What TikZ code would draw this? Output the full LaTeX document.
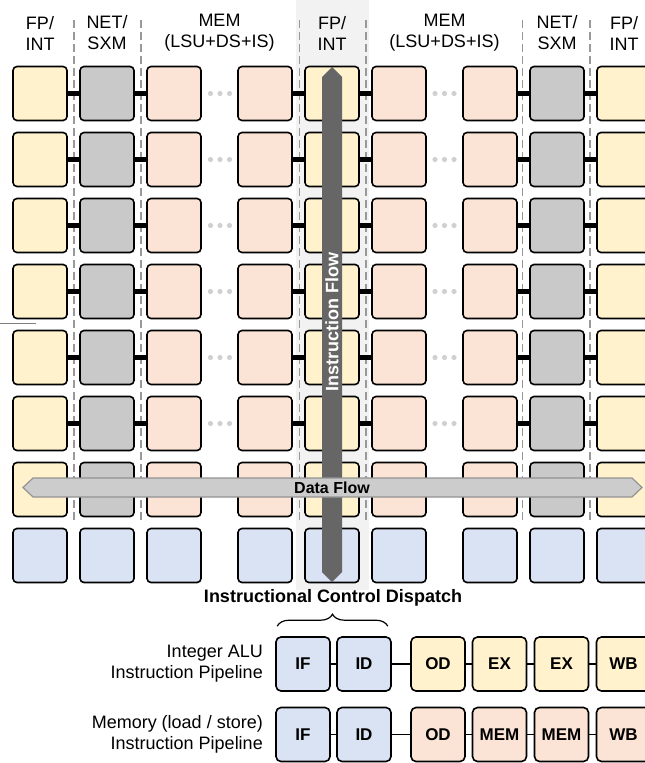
\documentclass[tikz,border=0pt]{standalone}
\usepackage{fontspec}
\setmainfont{Liberation Sans}
\usetikzlibrary{decorations.pathreplacing}

\definecolor{fpint}{HTML}{FFF2CC}
\definecolor{netsxm}{HTML}{C9C9C9}
\definecolor{memc}{HTML}{FBE4D5}
\definecolor{ctrlc}{HTML}{DAE3F3}
\definecolor{colbg}{HTML}{F2F2F2}
\definecolor{dotc}{HTML}{D0D0D0}
\definecolor{iflowc}{HTML}{666666}
\definecolor{dflowc}{HTML}{CCCCCC}

\begin{document}
\begin{tikzpicture}[x=1pt, y=-1pt,
    tile/.style={draw, line width=1.6pt, rounded corners=4pt,
      minimum size=54pt, inner sep=0pt},
    stage/.style={tile, rounded corners=5pt,
      font=\fontsize{17}{17}\selectfont\bfseries},
    link/.style={line width=4.5pt},
    pipe/.style={line width=1.6pt},
    sep/.style={draw=gray!80, line width=1.2pt, dash pattern=on 8pt off 4pt},
    head/.style={align=center, inner sep=0pt,
      font=\fontsize{18}{21}\selectfont}]

  \useasboundingbox (0,0) rectangle (645,763);

  % Achtergrond middelste kolom
  \fill[colbg] (296,0) rectangle (369,590);

  % Scheidingslijnen
  \foreach \x in {74,141,299.5,366,522.5,590}
    \draw[sep] (\x,20) -- (\x,520);

  % Kolomkoppen
  \node[head] (h1) at ( 40,33) {FP/\\INT};
  \node[head] (h2) at (107,33) {NET/\\SXM};
  \node[head] (h3) at (219.5,33) {MEM\\(LSU+DS+IS)};
  \node[head] (h4) at (332,33) {FP/\\INT};
  \node[head] (h5) at (444.5,33) {MEM\\(LSU+DS+IS)};
  \node[head] (h6) at (557,33) {NET/\\SXM};
  \node[head] (h7) at (624,33) {FP/\\INT};

  % Tegels
  \foreach \r in {1,...,7}
    \foreach \c/\x/\col in {1/40/fpint, 2/107/netsxm, 3/174/memc,
        4/265/memc, 5/332/fpint, 6/399/memc,
        7/490/memc, 8/557/netsxm, 9/624/fpint}
      \node[tile, fill=\col] (t-\r-\c) at (\x,{93.5+66*(\r-1)}) {};
  \foreach \c/\x in {1/40,2/107,3/174,4/265,5/332,6/399,7/490,8/557,9/624}
    \node[tile, fill=ctrlc] (t-8-\c) at (\x,555.5) {};

  % Verbindingen
  \foreach \r in {1,...,7}
    \foreach \a/\b in {1/2,2/3,4/5,5/6,7/8,8/9}
      \draw[link] (t-\r-\a.east) -- (t-\r-\b.west);

  % Puntjes
  \foreach \r in {1,...,6}
    \foreach \x in {210.5,220,229.5,435,444.5,454}
      \fill[dotc] (\x,{93.5+66*(\r-1)}) circle (2.6pt);

  % Instructiestroom
  \fill[iflowc] (322,77) -- (332,67) -- (342,77) -- (342,572)
    -- (332,582) -- (322,572) -- cycle;
  \node[rotate=90, text=white, inner sep=0pt,
    font=\fontsize{18}{18}\selectfont\bfseries] (iflow) at (332,322)
    {Instruction Flow};

  % Datastroom
  \filldraw[fill=dflowc, draw=gray!85, line width=1.2pt]
    (23,487.5) -- (33,478) -- (632,478) -- (642,487.5)
    -- (632,497) -- (33,497) -- cycle;
  \node[font=\fontsize{16}{16}\selectfont\bfseries, inner sep=0pt]
    (dflow) at (332,488) {Data Flow};

  \draw[gray, line width=0.8pt] (0,323) -- (36,323);

  % Pijplijnen
  \node[font=\fontsize{18}{18}\selectfont\bfseries] (disp) at (333,598)
    {Instructional Control Dispatch};

  \foreach \n/\x/\txt/\col in {1/303/IF/ctrlc, 2/364/ID/ctrlc,
      3/438/OD/fpint, 4/499.5/EX/fpint, 5/561.5/EX/fpint, 6/623.5/WB/fpint}
    \node[stage, fill=\col] (p1-\n) at (\x,664) {\txt};
  \foreach \n/\x/\txt/\col in {1/303/IF/ctrlc, 2/364/ID/ctrlc,
      3/438/OD/memc, 4/499.5/MEM/memc, 5/561.5/MEM/memc, 6/623.5/WB/memc}
    \node[stage, fill=\col] (p2-\n) at (\x,734.5) {\txt};

  \foreach \a/\b in {1/2,2/3,3/4,4/5,5/6} {
    \draw[pipe] (p1-\a) -- (p1-\b);
    \draw[pipe] (p2-\a) -- (p2-\b);
  }

  \draw[line width=1.2pt, decorate, decoration={brace, amplitude=12pt}]
    ([xshift=2pt,yshift=10pt]p1-1.north west)
    -- ([xshift=-4pt,yshift=10pt]p1-2.north east);

  \node[head, anchor=east, align=right] (lab1) at (263,664)
    {Integer ALU\\Instruction Pipeline};
  \node[head, anchor=east, align=right] (lab2) at (263,734)
    {Memory (load / store)\\Instruction Pipeline};

\end{tikzpicture}
\end{document}
